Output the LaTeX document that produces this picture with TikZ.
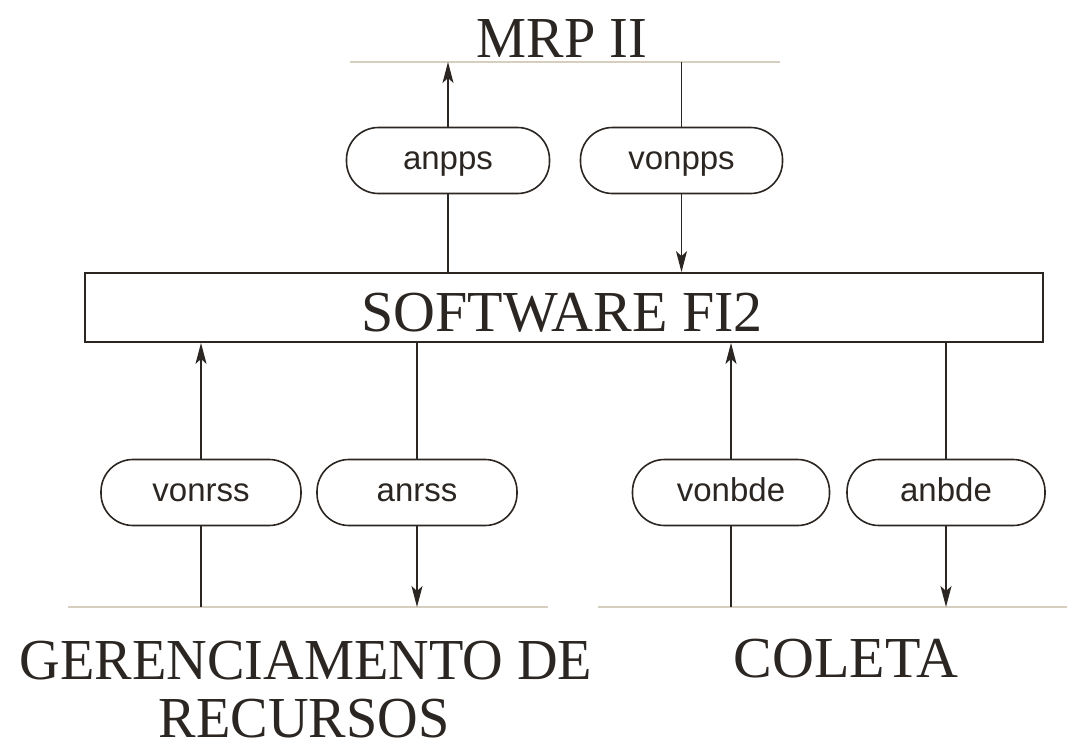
\documentclass[tikz,border=0pt]{standalone}
\usepackage{fontspec}
\setmainfont{Liberation Serif}
\newfontfamily\pillfont{Liberation Sans}
\usetikzlibrary{arrows.meta}
\definecolor{ink}{HTML}{2B2622}
\definecolor{rulecol}{HTML}{D6CFC0}
\newcommand{\narrowtxt}[1]{\scalebox{0.97}[1]{#1}}

\begin{document}
\begin{tikzpicture}[x=1pt,y=-1pt,
  pill/.style={draw=ink, line width=1.6pt, rounded corners=32pt,
    minimum width=200pt, minimum height=66pt, inner sep=0pt,
    text height=17pt, text depth=0pt,
    font=\pillfont\fontsize{33}{33}\selectfont, text=ink},
  title/.style={font=\fontsize{58}{57}\selectfont, text=ink, inner sep=0pt, anchor=base},
  railline/.style={draw=rulecol, line width=1.3pt},
  flow/.style={draw=ink, line width=1.4pt},
  flowarr/.style={flow, -{Stealth[length=21pt,width=11pt,inset=5pt]}}
]
\useasboundingbox (0,0) rectangle (1067,745);

% upper rail: MRP II
\node[title] (mrp) at (562,57) {\narrowtxt{MRP II}};
\coordinate (tl) at (350,62);
\coordinate (tr) at (780,62);
\draw[railline] (tl) -- (tr);

% central software block
\node[draw=ink, line width=1.8pt, minimum width=958pt, minimum height=69pt, inner sep=0pt] (sw) at (564,307.5) {};
\node[title] (swtxt) at (562,331) {SOFTWARE FI2};

% interfaces to MRP II
\node[pill, minimum width=203pt] (anpps) at (448,160.5) {anpps};
\node[pill, minimum width=202pt] (vonpps) at (681.5,160.5) {vonpps};

% lower rails
\coordinate (bl1) at (68,607);
\coordinate (br1) at (548,607);
\coordinate (bl2) at (598,607);
\coordinate (br2) at (1067,607);
\draw[railline] (bl1) -- (br1);
\draw[railline] (bl2) -- (br2);

% interfaces to the lower systems
\node[pill] (vonrss) at (201,492.5) {vonrss};
\node[pill] (anrss) at (417,492.5) {anrss};
\node[pill, minimum width=197pt] (vonbde) at (731,492.5) {vonbde};
\node[pill, minimum width=198pt] (anbde) at (946,492.5) {anbde};

% lower labels
\node[title] (ger) at (306,679) {\narrowtxt{GERENCIAMENTO DE}};
\node[title] (rec) at (304,737) {\narrowtxt{RECURSOS}};
\node[title] (col) at (846,677) {COLETA};

% flows between MRP II and the software
\draw[flow] (anpps.south |- sw.north) -- (anpps.south);
\draw[flowarr] (anpps.north) -- (anpps.north |- tl);
\draw[flow] (vonpps.north |- tl) -- (vonpps.north);
\draw[flowarr] (vonpps.south) -- (vonpps.south |- sw.north);

% flows between the software and the lower systems
\draw[flow] (vonrss.south |- bl1) -- (vonrss.south);
\draw[flowarr] (vonrss.north) -- (vonrss.north |- sw.south);
\draw[flow] (anrss.north |- sw.south) -- (anrss.north);
\draw[flowarr] (anrss.south) -- (anrss.south |- bl1);
\draw[flow] (vonbde.south |- bl2) -- (vonbde.south);
\draw[flowarr] (vonbde.north) -- (vonbde.north |- sw.south);
\draw[flow] (anbde.north |- sw.south) -- (anbde.north);
\draw[flowarr] (anbde.south) -- (anbde.south |- bl2);
\end{tikzpicture}
\end{document}
